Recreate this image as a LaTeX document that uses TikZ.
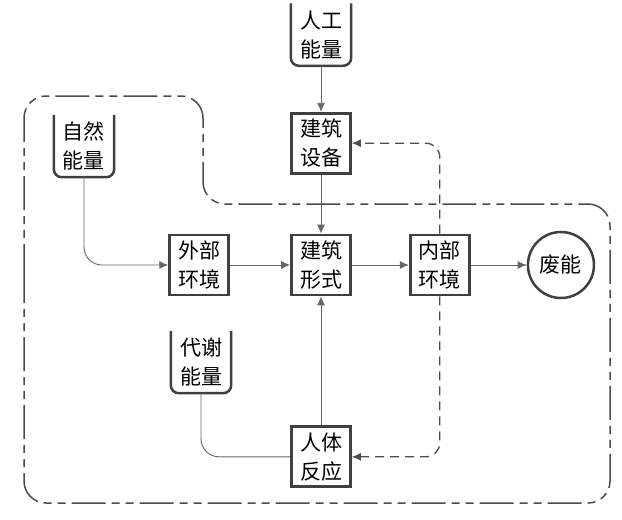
\documentclass[tikz,border=0pt]{standalone}
\usepackage{fontspec}
\setmainfont{Noto Sans CJK SC}
\usetikzlibrary{arrows.meta, positioning}

\begin{document}
\begin{tikzpicture}[
    x=1pt, y=-1pt,
    node distance=50pt,
    font=\fontsize{21pt}{29pt}\selectfont,
    block/.style={rectangle, draw=black!75, line width=2.8pt, align=center, minimum width=59pt, minimum height=60pt, inner sep=0pt},
    tank/.style={rectangle, align=center, minimum width=60pt, minimum height=62pt, inner sep=0pt},
    sink/.style={circle, draw=black!75, line width=2.5pt, minimum size=66pt, inner sep=0pt},
    tankline/.style={draw=black!75, line width=2.5pt, rounded corners=8pt},
    flow/.style={-{Latex[length=9pt,width=8pt]}, draw=black!60, line width=0.9pt},
    link/.style={draw=black!60, line width=0.9pt},
    feedback/.style={-{Latex[length=9pt,width=8pt]}, draw=black!70, line width=1.3pt, dash pattern=on 9pt off 6pt, rounded corners=14pt},
    border/.style={draw=black!70, line width=1.5pt, dash pattern=on 34pt off 6pt on 8pt off 6pt on 8pt off 6pt, rounded corners=22pt}
]
\useasboundingbox (0,0) rectangle (622,520);

\node[block] (form) at (321,265) {建筑\\形式};
\node[block, above=59pt of form] (equip) {建筑\\设备};
\node[block, left=60pt of form] (outer) {外部\\环境};
\node[block, right=57pt of form] (inner) {内部\\环境};
\node[sink, right=56pt of inner] (waste) {废能};
\node[block, below=129pt of form] (body) {人体\\反应};
\node[tank, above=46pt of equip] (artificial) {人工\\能量};
\node[tank] (natural) at (84,146) {自然\\能量};
\node[tank] (metabolic) at (201,362) {代谢\\能量};

% open-top energy tanks
\foreach \n in {artificial, natural, metabolic}
  \draw[tankline] (\n.north west) -- (\n.south west) -- (\n.south east) -- (\n.north east);

\draw[flow] (artificial) -- (equip);
\draw[flow] (equip) -- (form);
\draw[flow, rounded corners=18pt] (natural.south) |- (outer.west);
\draw[flow] (outer) -- (form);
\draw[flow] (form) -- (inner);
\draw[flow] (inner) -- (waste);
\draw[flow] (body) -- (form);
\draw[link, rounded corners=18pt] (metabolic.south) |- (body.west);
\draw[feedback] (inner.north) |- (equip.east);
\draw[feedback] (inner.south) |- (body.east);

% system boundary
\draw[border] (24,300) -- (24,96) -- (203,96) -- (203,204) -- (610,204) -- (610,503) -- (24,503) -- cycle;

\end{tikzpicture}
\end{document}
